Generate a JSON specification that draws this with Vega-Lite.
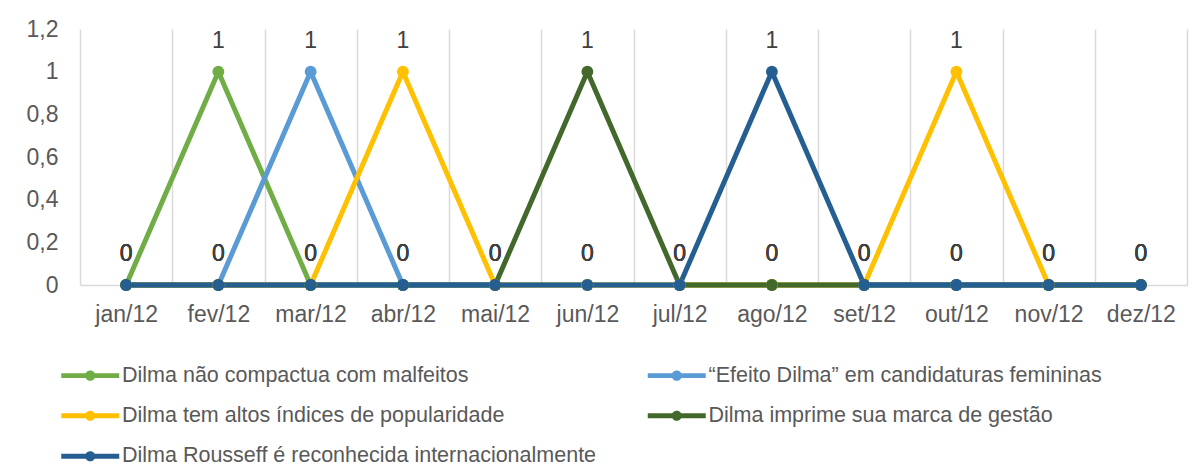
{
  "$schema": "https://vega.github.io/schema/vega-lite/v6.json",
  "width": 1107,
  "height": 256,
  "autosize": {"type": "none"},
  "padding": {"left": 80, "top": 29, "right": 15, "bottom": 183},
  "background": "white",
  "config": {
    "locale": {"number": {"decimal": ",", "thousands": ".", "grouping": [3], "currency": ["R$", ""]}},
    "view": {"stroke": null},
    "font": "Liberation Sans"
  },
  "data": {
    "values": [
      {"serie": "Dilma não compactua com malfeitos", "mes": "jan/12", "valor": 0},
      {"serie": "Dilma não compactua com malfeitos", "mes": "fev/12", "valor": 1},
      {"serie": "Dilma não compactua com malfeitos", "mes": "mar/12", "valor": 0},
      {"serie": "Dilma não compactua com malfeitos", "mes": "abr/12", "valor": 0},
      {"serie": "Dilma não compactua com malfeitos", "mes": "mai/12", "valor": 0},
      {"serie": "Dilma não compactua com malfeitos", "mes": "jun/12", "valor": 0},
      {"serie": "Dilma não compactua com malfeitos", "mes": "jul/12", "valor": 0},
      {"serie": "Dilma não compactua com malfeitos", "mes": "ago/12", "valor": 0},
      {"serie": "Dilma não compactua com malfeitos", "mes": "set/12", "valor": 0},
      {"serie": "Dilma não compactua com malfeitos", "mes": "out/12", "valor": 0},
      {"serie": "Dilma não compactua com malfeitos", "mes": "nov/12", "valor": 0},
      {"serie": "Dilma não compactua com malfeitos", "mes": "dez/12", "valor": 0},
      {"serie": "“Efeito Dilma” em candidaturas femininas", "mes": "jan/12", "valor": 0},
      {"serie": "“Efeito Dilma” em candidaturas femininas", "mes": "fev/12", "valor": 0},
      {"serie": "“Efeito Dilma” em candidaturas femininas", "mes": "mar/12", "valor": 1},
      {"serie": "“Efeito Dilma” em candidaturas femininas", "mes": "abr/12", "valor": 0},
      {"serie": "“Efeito Dilma” em candidaturas femininas", "mes": "mai/12", "valor": 0},
      {"serie": "“Efeito Dilma” em candidaturas femininas", "mes": "jun/12", "valor": 0},
      {"serie": "“Efeito Dilma” em candidaturas femininas", "mes": "jul/12", "valor": 0},
      {"serie": "“Efeito Dilma” em candidaturas femininas", "mes": "ago/12", "valor": 0},
      {"serie": "“Efeito Dilma” em candidaturas femininas", "mes": "set/12", "valor": 0},
      {"serie": "“Efeito Dilma” em candidaturas femininas", "mes": "out/12", "valor": 0},
      {"serie": "“Efeito Dilma” em candidaturas femininas", "mes": "nov/12", "valor": 0},
      {"serie": "“Efeito Dilma” em candidaturas femininas", "mes": "dez/12", "valor": 0},
      {"serie": "Dilma tem altos índices de popularidade", "mes": "jan/12", "valor": 0},
      {"serie": "Dilma tem altos índices de popularidade", "mes": "fev/12", "valor": 0},
      {"serie": "Dilma tem altos índices de popularidade", "mes": "mar/12", "valor": 0},
      {"serie": "Dilma tem altos índices de popularidade", "mes": "abr/12", "valor": 1},
      {"serie": "Dilma tem altos índices de popularidade", "mes": "mai/12", "valor": 0},
      {"serie": "Dilma tem altos índices de popularidade", "mes": "jun/12", "valor": 0},
      {"serie": "Dilma tem altos índices de popularidade", "mes": "jul/12", "valor": 0},
      {"serie": "Dilma tem altos índices de popularidade", "mes": "ago/12", "valor": 0},
      {"serie": "Dilma tem altos índices de popularidade", "mes": "set/12", "valor": 0},
      {"serie": "Dilma tem altos índices de popularidade", "mes": "out/12", "valor": 1},
      {"serie": "Dilma tem altos índices de popularidade", "mes": "nov/12", "valor": 0},
      {"serie": "Dilma tem altos índices de popularidade", "mes": "dez/12", "valor": 0},
      {"serie": "Dilma imprime sua marca de gestão", "mes": "jan/12", "valor": 0},
      {"serie": "Dilma imprime sua marca de gestão", "mes": "fev/12", "valor": 0},
      {"serie": "Dilma imprime sua marca de gestão", "mes": "mar/12", "valor": 0},
      {"serie": "Dilma imprime sua marca de gestão", "mes": "abr/12", "valor": 0},
      {"serie": "Dilma imprime sua marca de gestão", "mes": "mai/12", "valor": 0},
      {"serie": "Dilma imprime sua marca de gestão", "mes": "jun/12", "valor": 1},
      {"serie": "Dilma imprime sua marca de gestão", "mes": "jul/12", "valor": 0},
      {"serie": "Dilma imprime sua marca de gestão", "mes": "ago/12", "valor": 0},
      {"serie": "Dilma imprime sua marca de gestão", "mes": "set/12", "valor": 0},
      {"serie": "Dilma imprime sua marca de gestão", "mes": "out/12", "valor": 0},
      {"serie": "Dilma imprime sua marca de gestão", "mes": "nov/12", "valor": 0},
      {"serie": "Dilma imprime sua marca de gestão", "mes": "dez/12", "valor": 0},
      {"serie": "Dilma Rousseff é reconhecida internacionalmente", "mes": "jan/12", "valor": 0},
      {"serie": "Dilma Rousseff é reconhecida internacionalmente", "mes": "fev/12", "valor": 0},
      {"serie": "Dilma Rousseff é reconhecida internacionalmente", "mes": "mar/12", "valor": 0},
      {"serie": "Dilma Rousseff é reconhecida internacionalmente", "mes": "abr/12", "valor": 0},
      {"serie": "Dilma Rousseff é reconhecida internacionalmente", "mes": "mai/12", "valor": 0},
      {"serie": "Dilma Rousseff é reconhecida internacionalmente", "mes": "jun/12", "valor": 0},
      {"serie": "Dilma Rousseff é reconhecida internacionalmente", "mes": "jul/12", "valor": 0},
      {"serie": "Dilma Rousseff é reconhecida internacionalmente", "mes": "ago/12", "valor": 1},
      {"serie": "Dilma Rousseff é reconhecida internacionalmente", "mes": "set/12", "valor": 0},
      {"serie": "Dilma Rousseff é reconhecida internacionalmente", "mes": "out/12", "valor": 0},
      {"serie": "Dilma Rousseff é reconhecida internacionalmente", "mes": "nov/12", "valor": 0},
      {"serie": "Dilma Rousseff é reconhecida internacionalmente", "mes": "dez/12", "valor": 0}
    ]
  },
  "encoding": {
    "x": {
      "field": "mes", "type": "ordinal", "sort": null,
      "scale": {"paddingInner": 0, "paddingOuter": 0},
      "axis": {
        "title": null, "labelAngle": 0, "domain": true, "domainColor": "#d9d9d9", "domainWidth": 1.5,
        "ticks": false, "grid": true, "gridColor": "#d9d9d9", "gridWidth": 1.5, "tickBand": "extent",
        "labelFontSize": 23, "labelColor": "#595959", "labelPadding": 18
      }
    },
    "y": {
      "field": "valor", "type": "quantitative",
      "scale": {"domain": [0, 1.2], "nice": false},
      "axis": {
        "title": null, "values": [0, 0.2, 0.4, 0.6, 0.8, 1, 1.2], "format": ".1~f",
        "domain": false, "ticks": false, "grid": false,
        "labelFontSize": 23, "labelColor": "#595959", "labelPadding": 22
      }
    }
  },
  "layer": [
    {
      "mark": {"type": "line", "strokeWidth": 5, "strokeJoin": "round", "strokeCap": "round"},
      "encoding": {
        "color": {
          "field": "serie", "type": "nominal", "sort": null,
          "scale": {"range": ["#70AD47", "#5B9BD5", "#FFC000", "#43682B", "#255E91"]},
          "legend": {
            "title": null, "orient": "none", "legendX": -0.5, "legendY": 335.5, "columns": 2, "direction": "horizontal",
            "symbolType": "M-4.833,-0.4 L4.833,-0.4 L4.833,0.4 L-4.833,0.4 Z M-0.85,0 A0.85,0.85 0 1,1 0.85,0 A0.85,0.85 0 1,1 -0.85,0 Z",
            "symbolSize": 144, "symbolStrokeWidth": 0, "labelOffset": 21,
            "labelFontSize": 21.5, "labelColor": "#595959", "labelLimit": 700,
            "rowPadding": 17.5, "columnPadding": 50.5, "padding": 0,
            "encode": {"symbols": {"update": {"fill": {"scale": "color", "field": "value"}, "strokeWidth": {"value": 0}, "opacity": {"value": 1}}}}
          }
        }
      }
    },
    {
      "mark": {"type": "point", "filled": true, "size": 140, "opacity": 1},
      "encoding": {
        "color": {"field": "serie", "type": "nominal", "sort": null}
      }
    },
    {
      "mark": {"type": "text", "dy": -31, "fontSize": 23, "color": "#404040"},
      "encoding": {"text": {"field": "valor", "type": "quantitative", "format": ".0f"}}
    }
  ]
}
